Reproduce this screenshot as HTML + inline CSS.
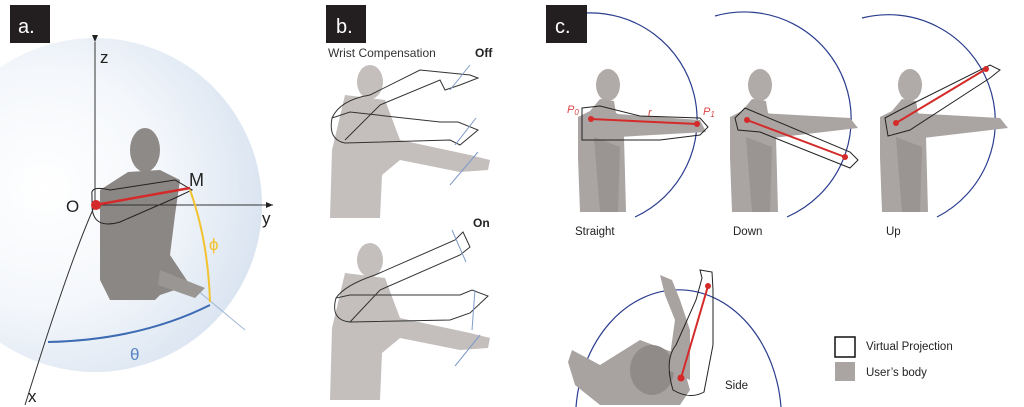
<!DOCTYPE html>
<html><head><meta charset="utf-8"><style>
html,body{margin:0;padding:0;background:#fff;width:1024px;height:407px;overflow:hidden}
svg{display:block}
text{font-family:"Liberation Sans",sans-serif}
</style></head><body>
<svg width="1024" height="407" viewBox="0 0 1024 407" xmlns="http://www.w3.org/2000/svg">
<defs>
<radialGradient id="sph" cx="0.35" cy="0.45" r="0.65">
<stop offset="0" stop-color="#ffffff"/><stop offset="0.55" stop-color="#f4f7fb"/><stop offset="1" stop-color="#dbe5f1"/>
</radialGradient>
<marker id="ar" markerWidth="8" markerHeight="8" refX="7" refY="4" orient="auto"><path d="M0,1 L7,4 L0,7z" fill="#222"/></marker>
<g id="fig">
<ellipse cx="18" cy="-32" rx="12" ry="16" fill="#b0aaa8"/>
<path d="M10,-18 L24,-16 L26,-4 L40,2 L40,10 L34,20 L36,95 L-10,95 L-12,40 L-12,0 L0,-6 Z" fill="#aaa4a2"/>
<path d="M4,20 L30,30 L28,95 L10,95 Z" fill="#9a9492"/>
</g>
</defs>

<!-- Panel a -->
<circle cx="95" cy="205" r="167" fill="url(#sph)"/>
<rect x="10" y="5" width="40" height="38" fill="#231f20"/>
<text x="18" y="33" font-size="20" fill="#fff">a.</text>
<line x1="95" y1="205" x2="245" y2="330" stroke="#9fb6d3" stroke-width="1"/>
<ellipse cx="145" cy="150" rx="15" ry="22" fill="#8e8a88"/>
<path d="M100,190 L128,172 L160,170 L180,180 L175,215 L170,255 L190,285 L160,295 L155,300 L110,300 L100,280 Z" fill="#8b8785"/>
<path d="M160,270 L205,288 L195,298 L158,285 Z" fill="#9a9694"/>
<path d="M92,195 Q90,185 110,190 L175,180 L192,190 L175,198 L120,222 Q92,230 92,205 Z" fill="none" stroke="#222" stroke-width="1"/>
<line x1="95" y1="42" x2="95" y2="205" stroke="#333" stroke-width="1" marker-start="url(#ar)"/>
<line x1="95" y1="205" x2="273" y2="205" stroke="#333" stroke-width="1" marker-end="url(#ar)"/>
<line x1="100" y1="205" x2="175" y2="205" stroke="#333" stroke-width="1" stroke-dasharray="2,2"/>
<path d="M95,205 Q70,260 25,405" fill="none" stroke="#333" stroke-width="1"/>
<line x1="95" y1="205" x2="190" y2="188" stroke="#d42a2a" stroke-width="2.5"/>
<circle cx="96" cy="205" r="5" fill="#d42a2a"/>
<path d="M190,190 Q208,240 210,302" fill="none" stroke="#f2c230" stroke-width="2"/>
<path d="M48,342 Q140,340 210,305" fill="none" stroke="#3d6bb3" stroke-width="2"/>
<text x="100" y="63" font-size="17" fill="#222">z</text>
<text x="262" y="224" font-size="17" fill="#222">y</text>
<text x="28" y="402" font-size="17" fill="#222">x</text>
<text x="66" y="212" font-size="17" fill="#222">O</text>
<text x="189" y="186" font-size="18" fill="#222">M</text>
<text x="209" y="250" font-size="17" fill="#f2c230">ϕ</text>
<text x="130" y="360" font-size="17" fill="#5a84c4">θ</text>

<!-- Panel b -->
<rect x="326" y="5" width="40" height="38" fill="#231f20"/>
<text x="336" y="33" font-size="20" fill="#fff">b.</text>
<text x="328" y="57" font-size="12" fill="#333">Wrist Compensation</text>
<text x="475" y="57" font-size="12" font-weight="bold" fill="#222">Off</text>
<text x="473" y="227" font-size="12" font-weight="bold" fill="#222">On</text>
<g fill="#c4bebd">
<ellipse cx="370" cy="82" rx="13" ry="17"/>
<path d="M345,95 L385,100 L400,140 L470,155 L490,160 L488,170 L460,172 L400,160 L382,175 L380,218 L330,218 L332,150 Z"/>
<ellipse cx="370" cy="260" rx="13" ry="17"/>
<path d="M345,273 L385,278 L400,318 L470,333 L490,338 L488,348 L460,350 L400,338 L382,353 L380,400 L330,400 L332,328 Z"/>
</g>
<g fill="none" stroke="#333" stroke-width="1">
<path d="M332,118 Q328,140 345,143 L450,140 L460,145 L478,130 L458,122 L440,122 L350,112 Z"/>
<path d="M332,118 Q340,100 370,95 L420,70 L470,75 L478,78 L460,85 L445,90 L440,80 L380,105 L345,140"/>
<path d="M336,298 Q330,320 350,322 L450,320 L470,313 L488,296 L472,290 L460,295 L350,295 Z"/>
<path d="M336,298 Q345,285 375,275 L455,240 L463,232 L470,247 L460,255 L380,290 L350,322"/>
</g>
<g stroke="#7f9bc8" stroke-width="1">
<line x1="450" y1="90" x2="470" y2="65"/><line x1="455" y1="145" x2="476" y2="118"/><line x1="450" y1="185" x2="478" y2="152"/>
<line x1="452" y1="230" x2="466" y2="262"/><line x1="475" y1="290" x2="472" y2="330"/><line x1="455" y1="366" x2="480" y2="335"/>
</g>

<!-- Panel c -->
<g fill="none" stroke="#2b3d8f" stroke-width="1.2">
<path d="M585,13 A107,107 0 0 1 635,217"/>
<path d="M715,16 A107,107 0 0 1 787,217"/>
<path d="M862,18 A107,107 0 0 1 937,217"/>
<path d="M576,407 A103,130 0 0 1 781,407"/>
</g>
<rect x="546" y="5" width="41" height="38" fill="#231f20"/>
<text x="555" y="33" font-size="20" fill="#fff">c.</text>
<use href="#fig" x="590" y="117"/>
<use href="#fig" x="742" y="117"/>
<use href="#fig" x="892" y="117"/>
<path d="M590,112 L700,120 L706,132 L600,138 Z" fill="#aaa4a2"/>
<path d="M582,108 L600,106 L640,116 L700,118 L708,127 L700,135 L660,140 L582,140 Z" fill="none" stroke="#222" stroke-width="1"/>
<line x1="591" y1="119" x2="697" y2="124" stroke="#d42a2a" stroke-width="2"/>
<circle cx="591" cy="119" r="3" fill="#d42a2a"/><circle cx="697" cy="124" r="3" fill="#d42a2a"/>
<text x="567" y="113" font-size="11" font-style="italic" fill="#d44">P<tspan font-size="8" dy="2">0</tspan></text>
<text x="648" y="116" font-size="11" font-style="italic" fill="#d44">r</text>
<text x="703" y="115" font-size="11" font-style="italic" fill="#d44">P<tspan font-size="8" dy="2">1</tspan></text>
<path d="M742,112 L850,118 L858,128 L756,140 Z" fill="#aaa4a2"/>
<path d="M735,118 L745,108 L850,152 L858,160 L850,168 L760,132 L738,130 Z" fill="none" stroke="#222" stroke-width="1"/>
<line x1="747" y1="120" x2="845" y2="157" stroke="#d42a2a" stroke-width="2"/>
<circle cx="747" cy="120" r="3" fill="#d42a2a"/><circle cx="845" cy="157" r="3" fill="#d42a2a"/>
<path d="M892,112 L1000,118 L1008,128 L906,140 Z" fill="#aaa4a2"/>
<path d="M885,118 L900,110 L990,65 L1000,70 L990,78 L910,130 L888,136 Z" fill="none" stroke="#222" stroke-width="1"/>
<line x1="896" y1="123" x2="986" y2="69" stroke="#d42a2a" stroke-width="2"/>
<circle cx="896" cy="123" r="3" fill="#d42a2a"/><circle cx="986" cy="69" r="3" fill="#d42a2a"/>
<text x="575" y="235" font-size="11.5" fill="#222">Straight</text>
<text x="733" y="235" font-size="11.5" fill="#222">Down</text>
<text x="886" y="235" font-size="11.5" fill="#222">Up</text>
<g fill="#a8a2a0">
<path d="M572,350 L600,365 L640,340 L680,355 L690,390 L680,405 L600,405 L575,385 L568,362 Z"/>
<ellipse cx="652" cy="370" rx="22" ry="25" fill="#908a88"/>
<path d="M668,370 L675,320 L665,295 L660,275 L672,280 L680,300 L690,330 L690,380 Z"/>
</g>
<path d="M673,390 Q664,360 676,345 L696,300 L702,278 L700,270 L712,272 L713,290 L713,345 L704,392 Q690,400 673,390 Z" fill="none" stroke="#222" stroke-width="1"/>
<line x1="681" y1="378" x2="708" y2="286" stroke="#d42a2a" stroke-width="2"/>
<circle cx="681" cy="378" r="3.5" fill="#d42a2a"/><circle cx="708" cy="286" r="3" fill="#d42a2a"/>
<text x="725" y="389" font-size="11.5" fill="#222">Side</text>
<rect x="835" y="337" width="20" height="20" fill="#fff" stroke="#111" stroke-width="1.5"/>
<rect x="835" y="362" width="20" height="19" fill="#aaa4a2"/>
<text x="866" y="350" font-size="11.5" fill="#222">Virtual Projection</text>
<text x="866" y="376" font-size="11.5" fill="#222">User’s body</text>
</svg>
</body></html>
